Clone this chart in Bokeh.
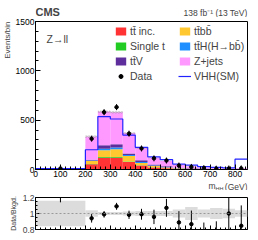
import math
from bokeh.plotting import figure
from bokeh.layouts import column
from bokeh.models import (Range1d, FixedTicker, Label, Legend, LegendItem, Span, Title)
from bokeh.embed import file_html
from bokeh.resources import INLINE

# ---------------- data ----------------
edges = [0, 200, 250, 300, 350, 400, 450, 500, 550, 600, 650, 700, 750, 800, 850]
tt_inc   = [1.0, 53, 120, 120, 77, 40, 20, 12, 7, 4, 3, 2, 1.5, 2]
single_t = [0.5, 3, 6, 6, 4, 3, 2, 1, 1, 0.5, 0.5, 0.3, 0.3, 0.5]
ttbb     = [0.5, 31, 70, 80, 57, 22, 13, 7, 4, 2.5, 1.5, 1, 0.7, 1]
tth      = [0.2, 5, 15, 16, 8, 10, 5, 4, 2, 1, 1, 0.5, 0.5, 0.5]
ttv      = [1.5, 8, 36, 35, 15, 20, 10, 8, 5, 4, 3, 2, 2, 3]
zjets    = [2.3, 232, 340, 323, 208, 120, 68, 53, 26, 18, 11, 6.2, 5, 6]
vhh_sm   = [8, 200, 536, 512, 349, 225, 128, 100, 55, 45, 30, 22, 17, 105]
data     = [10, 312, 581, 632, 363, 213, 113, 91, 40, 26, 14, 8, 10, 11]
bkg_unc  = [0.16, 0.04, 0.02, 0.02, 0.025, 0.03, 0.03, 0.03, 0.05, 0.08, 0.05, 0.07, 0.06, 0.04]
x_ticks = [0, 100, 200, 300, 400, 500, 600, 700, 800]
y_ticks = [0, 500, 1000, 1500]
ratio_ticks = [0.8, 1.0, 1.2]

components = [
    ("tt\u0304 inc.", tt_inc, "#ff3333"),
    ("Single t", single_t, "#22cc22"),
    ("tt\u0304bb\u0304", ttbb, "#ffc830"),
    ("tt\u0304H(H\u2192bb\u0304)", tth, "#1f8fff"),
    ("tt\u0304V", ttv, "#5e2e9c"),
    ("Z+jets", zjets, "#ff99ff"),
]

FONT = "Liberation Sans"
W = 258
LB, RB = 31, 11
left = edges[:-1]
right = edges[1:]
centers = [(a + b) / 2 for a, b in zip(left, right)]
nb = len(left)
xr = Range1d(0, 850)


def blank_fig(h):
    f = figure(width=W, height=h, x_range=xr, y_range=Range1d(0, 1),
               output_backend="svg", toolbar_location=None, title=None,
               min_border_left=LB, min_border_right=RB, min_border_top=0,
               min_border_bottom=0)
    f.axis.visible = False
    f.grid.visible = False
    f.outline_line_color = None
    return f


# ---------------- header strip ----------------
hdr = blank_fig(17)
hdr.add_layout(Label(x=0, y=0, text="CMS", text_font=FONT, text_font_style="bold",
                     text_font_size="11px", text_baseline="bottom", y_offset=0))
hdr.add_layout(Label(x=850, y=0, text="138 fb\u207b\u00b9 (13 TeV)", text_font=FONT,
                     text_font_size="8.5px", text_baseline="bottom", text_align="right",
                     y_offset=0))

# ---------------- main panel ----------------
p = figure(width=W, height=163, x_range=xr, y_range=Range1d(0, 1500),
           output_backend="svg", toolbar_location=None, title=None,
           min_border_left=LB, min_border_right=RB, min_border_top=4, min_border_bottom=11)
p.grid.visible = False
p.outline_line_color = "black"
p.outline_line_width = 1

bottom = [0.0] * nb
renderers = {}
for name, vals, col in components:
    top = [b + v for b, v in zip(bottom, vals)]
    rr = p.quad(left=left, right=right, bottom=bottom, top=top, fill_color=col,
                line_color=None)
    renderers[name] = rr
    bottom = top
total = bottom

# uncertainty hatch on total
p.quad(left=left, right=right, bottom=[t * (1 - u) for t, u in zip(total, bkg_unc)],
       top=[t * (1 + u) for t, u in zip(total, bkg_unc)], fill_alpha=0,
       line_color=None, hatch_pattern="/", hatch_color="#888888", hatch_scale=3,
       hatch_weight=0.6)

# VHH line
vhh_r = p.step(x=edges, y=vhh_sm + [vhh_sm[-1]], mode="after", line_color="#2222ff",
               line_width=1.2)

# data points
derr = [math.sqrt(d) for d in data]
p.segment(x0=centers, x1=centers, y0=[d - e for d, e in zip(data, derr)],
          y1=[d + e for d, e in zip(data, derr)], line_color="black", line_width=1)
d_dash = p.scatter(x=centers, y=data, marker="dash", angle=math.pi / 2, size=6,
                   line_color="black", line_width=1)
d_pt = p.scatter(x=centers, y=data, marker="circle", size=3.5, fill_color="black",
                 line_color="black")

p.xaxis.ticker = FixedTicker(ticks=x_ticks, minor_ticks=list(range(0, 860, 20)))
p.yaxis.ticker = FixedTicker(ticks=y_ticks, minor_ticks=list(range(0, 1501, 100)))
for ax in (p.xaxis, p.yaxis):
    ax.major_tick_in = 5
    ax.major_tick_out = 0
    ax.minor_tick_in = 3
    ax.minor_tick_out = 0
    ax.major_label_text_font = FONT
    ax.major_label_text_font_size = "8.5px"
    ax.major_label_text_color = "black"
    ax.axis_line_color = "black"
    ax.major_label_standoff = 1

p.add_layout(Title(text="Events/bin", align="right", text_font=FONT, text_font_size="8px",
                   text_font_style="normal", standoff=1), "left")

p.add_layout(Label(x=0, y=1500, text="Z\u2192ll", text_font=FONT, text_font_size="10.5px",
                   text_baseline="top", x_offset=11, y_offset=-11))


def mk_legend(items, x, y):
    lg = Legend(items=items, location=(x, y), orientation="vertical",
                label_text_font=FONT, label_text_font_size="10.5px",
                glyph_width=13, glyph_height=10, label_standoff=3, spacing=3,
                padding=0, margin=0, border_line_color=None, background_fill_alpha=0,
                label_height=10)
    p.add_layout(lg)


names = [c[0] for c in components]
mk_legend([LegendItem(label=names[0], renderers=[renderers[names[0]]]),
           LegendItem(label=names[1], renderers=[renderers[names[1]]]),
           LegendItem(label=names[4], renderers=[renderers[names[4]]]),
           LegendItem(label="Data", renderers=[d_dash, d_pt])], 79, 87)
mk_legend([LegendItem(label=names[2], renderers=[renderers[names[2]]]),
           LegendItem(label=names[3], renderers=[renderers[names[3]]]),
           LegendItem(label=names[5], renderers=[renderers[names[5]]]),
           LegendItem(label="VHH(SM)", renderers=[vhh_r])], 143, 87)

# ---------------- x label strip ----------------
xl = blank_fig(10)
xl.add_layout(Label(x=850, y=0, text="(GeV)", text_font=FONT, text_font_size="8.5px",
                    text_align="right", text_baseline="bottom", y_offset=1))
xl.add_layout(Label(x=850, y=0, text="HH", text_font=FONT, text_font_size="5.5px",
                    text_align="right", text_baseline="bottom", y_offset=1, x_offset=-24))
xl.add_layout(Label(x=850, y=0, text="m", text_font=FONT, text_font_size="8.5px",
                    text_align="right", text_baseline="bottom", y_offset=2, x_offset=-32))

# ---------------- ratio panel ----------------
r = figure(width=W, height=50, x_range=xr, y_range=Range1d(0.8, 1.2),
           output_backend="svg", toolbar_location=None, title=None,
           min_border_left=LB, min_border_right=RB, min_border_top=7, min_border_bottom=11)
r.grid.visible = False
r.outline_line_color = "black"
r.quad(left=left, right=right, bottom=[1 - u for u in bkg_unc], top=[1 + u for u in bkg_unc],
       fill_color="#dcdcdc", line_color=None)
r.add_layout(Span(location=1, dimension="width", line_color="#888888", line_dash="2 2",
                  line_width=0.8))
ratio = [d / t for d, t in zip(data, total)]
rerr = [e / t for e, t in zip(derr, total)]
r.segment(x0=centers, x1=centers, y0=[a - b for a, b in zip(ratio, rerr)],
          y1=[a + b for a, b in zip(ratio, rerr)], line_color="black", line_width=1)
r.scatter(x=centers, y=ratio, marker="circle", size=3.5, fill_color="black", line_color="black")
r.xaxis.ticker = FixedTicker(ticks=x_ticks, minor_ticks=list(range(0, 860, 20)))
r.yaxis.ticker = FixedTicker(ticks=ratio_ticks, minor_ticks=[0.85, 0.9, 0.95, 1.05, 1.1, 1.15])
r.yaxis.major_label_overrides = {0.8: "0.8", 1.0: "1", 1.2: "1.2"}
for ax in (r.xaxis, r.yaxis):
    ax.major_tick_in = 4
    ax.major_tick_out = 0
    ax.minor_tick_in = 2
    ax.minor_tick_out = 0
    ax.major_label_text_font = FONT
    ax.major_label_text_font_size = "8.5px"
    ax.axis_line_color = "black"
    ax.major_label_standoff = 1
r.xaxis.major_label_overrides = {t: "" for t in x_ticks}
r.xaxis.major_label_standoff = 0
r.yaxis.axis_label = "Data/Bkgd."
r.yaxis.axis_label_text_font = FONT
r.yaxis.axis_label_text_font_size = "7px"
r.yaxis.axis_label_text_font_style = "normal"
r.yaxis.axis_label_standoff = 3

layout = column(hdr, p, xl, r, spacing=0)
open("out.html", "w").write(file_html(layout, INLINE))
